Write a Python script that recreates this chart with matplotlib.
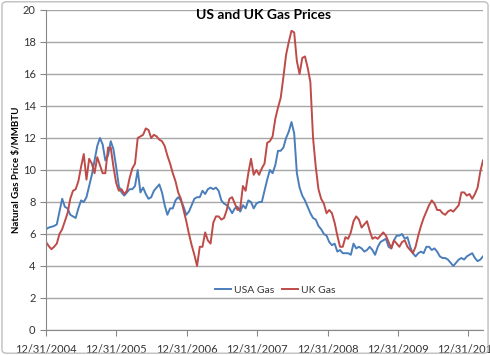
import numpy as np
import pandas as pd
import matplotlib
matplotlib.use('Agg')
import matplotlib.pyplot as plt
import matplotlib.dates as mdates
from matplotlib.patches import FancyBboxPatch

# biweekly prices, starting 12/31/2004
start = '2004-12-31'
usa_gas = [6.3, 6.4, 6.45, 6.5, 6.6, 7.4, 8.2, 7.7, 7.6, 7.2, 7.1, 7.0, 7.6, 8.1, 8.0, 8.3, 9.0, 9.7, 10.6, 11.5,
           12.0, 11.6, 10.6, 10.9, 11.8, 11.3, 10.2, 9.0, 8.6, 8.4, 8.6, 8.8, 8.8, 9.0, 10.0, 8.6, 8.9, 8.5, 8.2, 8.3,
           8.7, 8.9, 9.1, 8.6, 7.8, 7.2, 7.6, 7.6, 8.1, 8.3, 8.1, 7.7, 7.2, 7.4, 7.8, 8.2, 8.3, 8.3, 8.7, 8.5,
           8.8, 8.9, 8.8, 8.9, 8.7, 8.1, 7.9, 7.8, 7.6, 7.3, 7.6, 7.7, 7.4, 7.8, 7.6, 8.1, 8.0, 7.6, 7.9, 8.0,
           8.0, 8.7, 9.4, 10.0, 9.8, 10.3, 11.2, 11.2, 11.4, 12.0, 12.4, 13.0, 12.3, 9.8, 8.9, 8.4, 8.1, 7.7, 7.3, 7.0,
           6.9, 6.5, 6.3, 6.0, 5.9, 5.5, 5.3, 5.4, 4.9, 5.0, 4.8, 4.8, 4.8, 4.7, 5.4, 5.1, 5.2, 5.1, 4.9, 5.0,
           5.2, 5.0, 4.7, 5.2, 5.5, 5.6, 5.7, 5.2, 5.1, 5.6, 5.9, 5.9, 6.0, 5.7, 5.8, 5.2, 4.8, 4.6, 4.8, 4.9,
           4.8, 5.2, 5.2, 5.0, 5.1, 4.9, 4.6, 4.5, 4.5, 4.4, 4.2, 4.0, 4.2, 4.4, 4.5, 4.4, 4.6, 4.7, 4.8, 4.5,
           4.3, 4.4, 4.6]
uk_gas = [5.5, 5.25, 5.05, 5.2, 5.4, 6.0, 6.3, 6.8, 7.3, 8.2, 8.7, 8.8, 9.3, 10.2, 11.0, 9.4, 10.7, 10.4, 9.8, 10.8,
          10.3, 9.8, 9.8, 11.4, 11.4, 10.2, 9.2, 8.7, 8.8, 8.5, 8.7, 9.5, 10.1, 10.4, 12.0, 12.1, 12.2, 12.6, 12.5, 12.0,
          12.2, 12.1, 11.9, 11.8, 11.5, 10.9, 10.4, 9.8, 9.3, 8.6, 8.2, 7.5, 6.8, 6.0, 5.3, 4.7, 4.0, 5.2, 5.2, 6.1,
          5.6, 5.4, 6.7, 7.1, 7.1, 6.9, 7.0, 7.5, 8.2, 8.3, 7.9, 7.5, 7.6, 9.0, 8.7, 9.8, 10.7, 9.7, 10.0, 9.7,
          10.1, 10.4, 11.7, 11.8, 12.1, 13.2, 13.9, 14.5, 15.8, 17.2, 18.0, 18.7, 18.6, 16.8, 16.0, 17.0, 17.1, 16.4, 15.5, 12.0,
          10.2, 8.8, 8.2, 7.9, 7.3, 7.5, 7.3, 6.7, 5.9, 5.2, 5.2, 5.8, 5.7, 6.1, 6.8, 7.1, 6.9, 6.4, 6.6, 6.8,
          6.2, 5.7, 5.8, 5.7, 5.9, 6.1, 5.9, 5.5, 5.1, 5.6, 5.4, 5.2, 5.5, 5.6, 5.2, 5.0, 4.8, 5.2, 5.9, 6.5,
          7.0, 7.4, 7.8, 8.1, 7.9, 7.5, 7.5, 7.3, 7.2, 7.4, 7.5, 7.4, 7.6, 7.8, 8.6, 8.6, 8.4, 8.5, 8.2, 8.5,
          8.9, 9.9, 10.6]
tick_dates = ['2004-12-31', '2005-12-31', '2006-12-31', '2007-12-31', '2008-12-31', '2009-12-31', '2010-12-31']

dates = pd.date_range(start, periods=len(usa_gas), freq='14D')

plt.rcParams['font.family'] = ['Lato', 'DejaVu Sans']
fig = plt.figure(figsize=(4.9, 3.55), dpi=100)
ax = fig.add_axes([46/490, 1-330/355, 437/490, 320/355])

ax.plot(dates, usa_gas, color='#4A7EBB', lw=1.4, label='USA Gas')
ax.plot(dates, uk_gas, color='#BE4B48', lw=1.4, label='UK Gas')

ax.set_ylim(0, 20)
ax.set_yticks(range(0, 21, 2))
ax.set_xlim(dates[0], dates[-1])
ax.set_xticks(pd.to_datetime(tick_dates))
ax.xaxis.set_major_formatter(mdates.DateFormatter('%m/%d/%Y'))
ax.grid(axis='y', color='#A6A6A6', lw=1)
ax.set_axisbelow(True)
for s in ['top', 'right']:
    ax.spines[s].set_visible(False)
for s in ['left', 'bottom']:
    ax.spines[s].set_color('#888888')
ax.tick_params(colors='#888888', labelcolor='#333333', labelsize=8, length=4)
ax.tick_params(axis='x', pad=6)

ax.set_ylabel('Natural Gas Price $/MMBTU', fontsize=7, fontweight='bold')
ax.yaxis.set_label_coords(-0.057, 0.5)
fig.text(264/490, 1-15/355, 'US and UK Gas Prices', ha='center', va='center', fontsize=10, fontweight='bold')
ax.legend(loc='center', bbox_to_anchor=(0.525, 0.125), ncol=2, frameon=False, fontsize=7.5,
          handlelength=1.5, handletextpad=0.3, columnspacing=0.8, labelcolor='#333333')

fig.patches.append(FancyBboxPatch((0.004, 0.005), 0.992, 0.99, boxstyle='round,pad=0,rounding_size=0.01',
                                  transform=fig.transFigure, fill=False, ec='#BFBFBF', lw=1))
fig.savefig('out.png', dpi=100)
